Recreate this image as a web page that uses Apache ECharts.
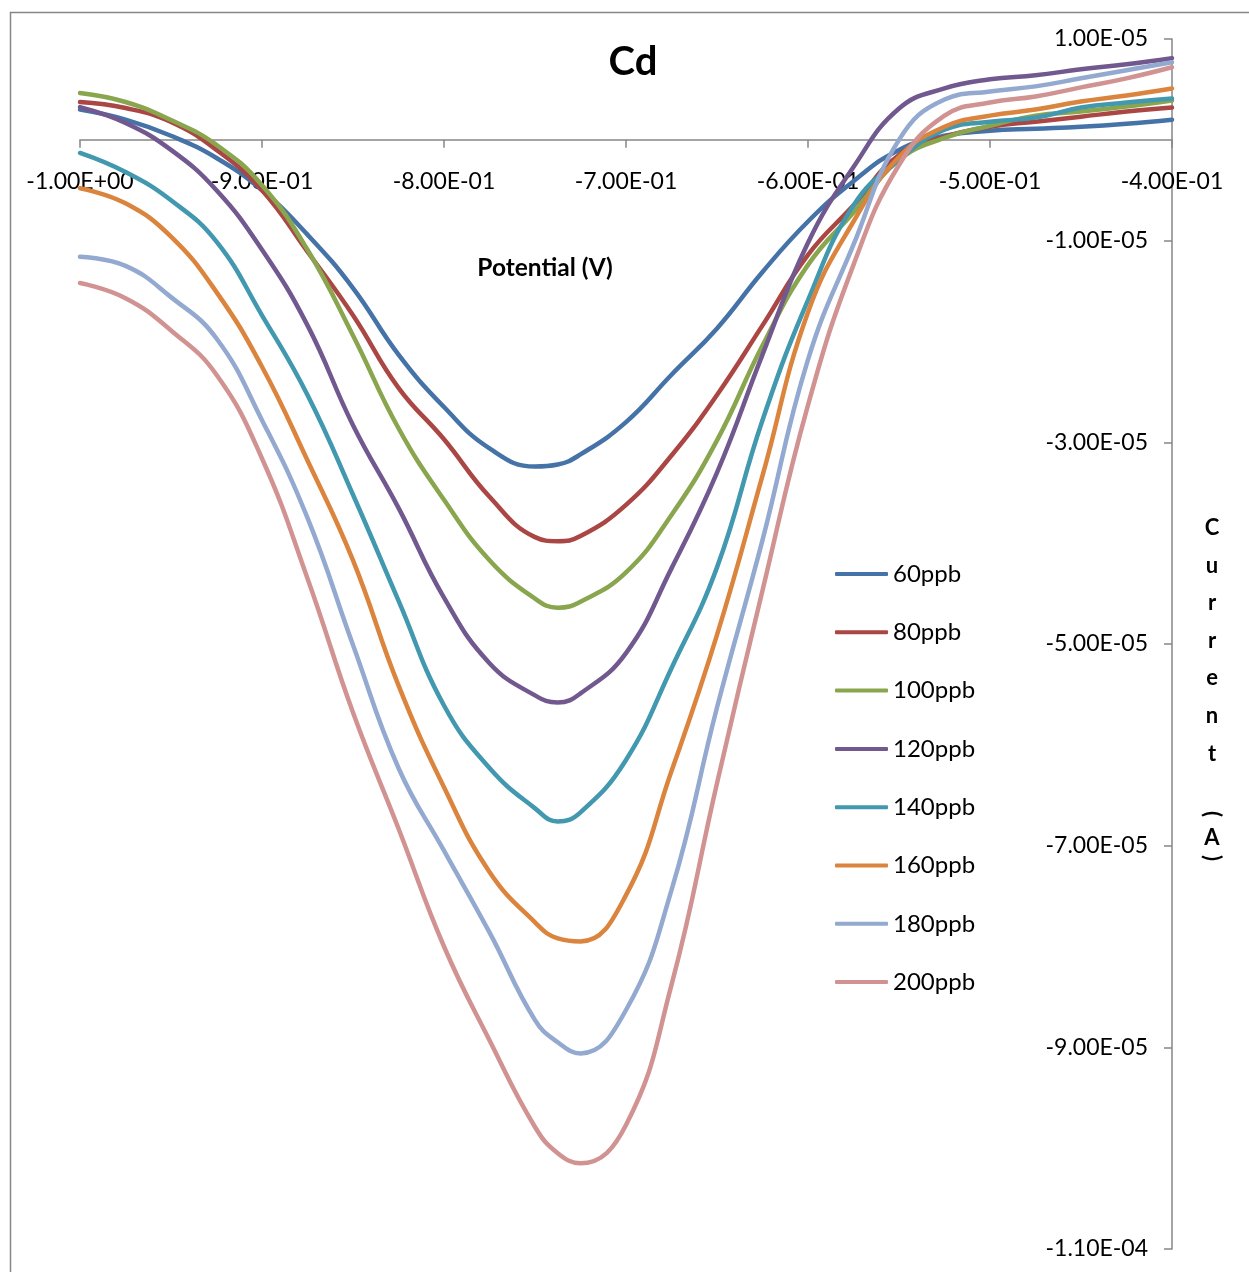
<!DOCTYPE html>
<html>
<head>
<meta charset="utf-8">
<script src="https://cdn.jsdelivr.net/npm/echarts@6/dist/echarts.min.js"></script>
<style>
  html, body { margin: 0; padding: 0; background: #ffffff; }
  #chart { width: 1249px; height: 1272px; }
</style>
</head>
<body>
<div id="chart"></div>
<script>
// Potential sweep (V)
const potentials = [-1.0, -0.975, -0.95, -0.925, -0.9, -0.875, -0.85, -0.825, -0.8, -0.775,
  -0.75, -0.7375, -0.725, -0.7, -0.675, -0.65, -0.625, -0.6, -0.575, -0.55,
  -0.525, -0.5, -0.475, -0.45, -0.425, -0.4];

// Measured current for each Cd concentration, in units of 1e-5 A
const currentUnit = 1e-5;
const cd60 = [0.30, 0.20, 0.04, -0.18, -0.50, -0.94, -1.47, -2.13, -2.65, -3.06,
  -3.24, -3.22, -3.12, -2.80, -2.33, -1.87, -1.31, -0.81, -0.41, -0.10,
  0.04, 0.09, 0.11, 0.13, 0.16, 0.20];
const cd80 = [0.375, 0.315, 0.177, -0.10, -0.50, -1.11, -1.74, -2.46, -2.97, -3.54,
  -3.94, -3.98, -3.93, -3.62, -3.13, -2.53, -1.84, -1.14, -0.65, -0.15,
  0.03, 0.13, 0.18, 0.23, 0.28, 0.32];
const cd100 = [0.464, 0.375, 0.196, -0.05, -0.45, -1.09, -1.94, -2.86, -3.57, -4.17,
  -4.55, -4.64, -4.58, -4.29, -3.72, -2.98, -2.04, -1.24, -0.72, -0.20,
  0.02, 0.14, 0.24, 0.28, 0.33, 0.39];
const cd120 = [0.325, 0.167, -0.10, -0.50, -1.09, -1.84, -2.83, -3.65, -4.54, -5.19,
  -5.51, -5.58, -5.49, -5.09, -4.25, -3.30, -2.13, -1.02, -0.27, 0.31,
  0.51, 0.60, 0.64, 0.70, 0.75, 0.81];
const cd140 = [-0.13, -0.32, -0.60, -1.01, -1.74, -2.53, -3.52, -4.57, -5.61, -6.23,
  -6.63, -6.76, -6.67, -6.15, -5.24, -4.24, -2.78, -1.59, -0.65, -0.20,
  0.10, 0.18, 0.22, 0.32, 0.37, 0.41];
const cd160 = [-0.48, -0.63, -0.96, -1.51, -2.25, -3.18, -4.17, -5.41, -6.42, -7.26,
  -7.76, -7.92, -7.95, -7.49, -6.26, -4.91, -3.33, -1.71, -0.81, -0.17,
  0.13, 0.24, 0.30, 0.38, 0.44, 0.51];
const cd180 = [-1.16, -1.25, -1.56, -1.97, -2.78, -3.75, -5.01, -6.23, -7.05, -7.86,
  -8.73, -8.95, -9.06, -8.63, -7.44, -5.63, -3.97, -2.18, -1.04, 0.00,
  0.40, 0.48, 0.53, 0.61, 0.69, 0.77];
const cd200 = [-1.42, -1.57, -1.89, -2.33, -3.16, -4.35, -5.68, -6.83, -8.00, -8.93,
  -9.79, -10.05, -10.15, -9.77, -8.38, -6.38, -4.47, -2.63, -1.24, -0.25,
  0.24, 0.37, 0.43, 0.52, 0.61, 0.72];

const seriesNames = ['60ppb', '80ppb', '100ppb', '120ppb', '140ppb', '160ppb', '180ppb', '200ppb'];
const seriesValues = [cd60, cd80, cd100, cd120, cd140, cd160, cd180, cd200];
const seriesColors = ['#4572A7', '#AA4643', '#89A54E', '#71588F', '#4198AF', '#DB843D', '#93A9CF', '#D19392'];

// Current axis range and tick positions (A)
const currentMin = -1.1e-4;
const currentMax = 1e-5;
const currentTicks = [-1.1e-4, -9e-5, -7e-5, -5e-5, -3e-5, -1e-5, 1e-5];

// Excel-style scientific notation, e.g. -1.00E+00
function sci(v) {
  if (Math.abs(v) < 1e-15) return '0.00E+00';
  const parts = v.toExponential(2).split('e');
  const exp = parseInt(parts[1], 10);
  const sign = exp < 0 ? '-' : '+';
  return parts[0] + 'E' + sign + String(Math.abs(exp)).padStart(2, '0');
}

const axisGray = '#868686';
const font = 'Lato, "Open Sans", sans-serif';

const gridTop = 39;
const gridBottom = 23;
const chartHeight = 1272;
const plotHeight = chartHeight - gridTop - gridBottom;
// the potential axis crosses the current axis at 0 A
const zeroOffset = plotHeight * (currentMax - 0) / (currentMax - currentMin);

const chart = echarts.init(document.getElementById('chart'), null, { renderer: 'canvas' });

const series = seriesNames.map((name, i) => ({
  name: name,
  type: 'line',
  smooth: 0.45,
  showSymbol: false,
  symbol: 'none',
  color: seriesColors[i],
  lineStyle: { width: 4.5, color: seriesColors[i], cap: 'round', join: 'round' },
  data: potentials.map((p, j) => [p, seriesValues[i][j] * currentUnit])
}));

const yLetters = ['C', 'u', 'r', 'r', 'e', 'n', 't'];

chart.setOption({
  animation: false,
  backgroundColor: '#ffffff',
  grid: { left: 80, right: 77, top: gridTop, bottom: gridBottom, containLabel: false, outerBoundsMode: 'none' },
  xAxis: {
    type: 'value',
    position: 'top',
    offset: -zeroOffset,
    min: -1.0,
    max: -0.4,
    interval: 0.1,
    axisLine: { show: true, onZero: false, lineStyle: { color: axisGray, width: 1.5 } },
    axisTick: { show: true, inside: true, length: 8, lineStyle: { color: axisGray, width: 1.5 } },
    axisLabel: {
      inside: true,
      margin: 30,
      color: '#000000',
      fontFamily: font,
      fontSize: 23,
      formatter: v => sci(v)
    },
    splitLine: { show: false }
  },
  yAxis: {
    type: 'value',
    position: 'right',
    min: currentMin,
    max: currentMax,
    axisLine: { show: true, onZero: false, lineStyle: { color: axisGray, width: 1.5 } },
    axisTick: { show: true, inside: true, length: 8, customValues: currentTicks, lineStyle: { color: axisGray, width: 1.5 } },
    axisLabel: {
      inside: true,
      margin: 24,
      color: '#000000',
      fontFamily: font,
      fontSize: 23,
      customValues: currentTicks,
      formatter: v => sci(v)
    },
    splitLine: { show: false }
  },
  legend: {
    orient: 'vertical',
    left: 835,
    top: 562,
    padding: 0,
    icon: 'roundRect',
    itemWidth: 53,
    itemHeight: 4,
    itemGap: 34.3,
    textStyle: { fontFamily: font, fontSize: 24, color: '#000000' },
    data: seriesNames
  },
  graphic: [
    {
      type: 'rect',
      shape: { x: 10.5, y: 12.5, width: 1300, height: 1300 },
      style: { fill: 'none', stroke: axisGray, lineWidth: 1.5 },
      silent: true,
      z: -10
    },
    {
      type: 'text',
      x: 633, y: 62,
      style: { text: 'Cd', fontFamily: font, fontWeight: 'bold', fontSize: 40, fill: '#000000', align: 'center', verticalAlign: 'middle' }
    },
    {
      type: 'text',
      x: 545, y: 268,
      style: { text: 'Potential (V)', fontFamily: font, fontWeight: 'bold', fontSize: 24.5, fill: '#000000', align: 'center', verticalAlign: 'middle' }
    },
    ...yLetters.map((ch, k) => ({
      type: 'text',
      x: 1212, y: 528 + k * 37.6,
      style: { text: ch, fontFamily: font, fontWeight: 'bold', fontSize: 22, fill: '#000000', align: 'center', verticalAlign: 'middle' }
    })),
    {
      type: 'text',
      x: 1212, y: 814, rotation: -Math.PI / 2,
      style: { text: '(', fontFamily: font, fontWeight: 'bold', fontSize: 22, fill: '#000000', align: 'center', verticalAlign: 'middle' }
    },
    {
      type: 'text',
      x: 1212, y: 838,
      style: { text: 'A', fontFamily: font, fontWeight: 'bold', fontSize: 22, fill: '#000000', align: 'center', verticalAlign: 'middle' }
    },
    {
      type: 'text',
      x: 1212, y: 858, rotation: -Math.PI / 2,
      style: { text: ')', fontFamily: font, fontWeight: 'bold', fontSize: 22, fill: '#000000', align: 'center', verticalAlign: 'middle' }
    }
  ],
  series: series
});
</script>
</body>
</html>
